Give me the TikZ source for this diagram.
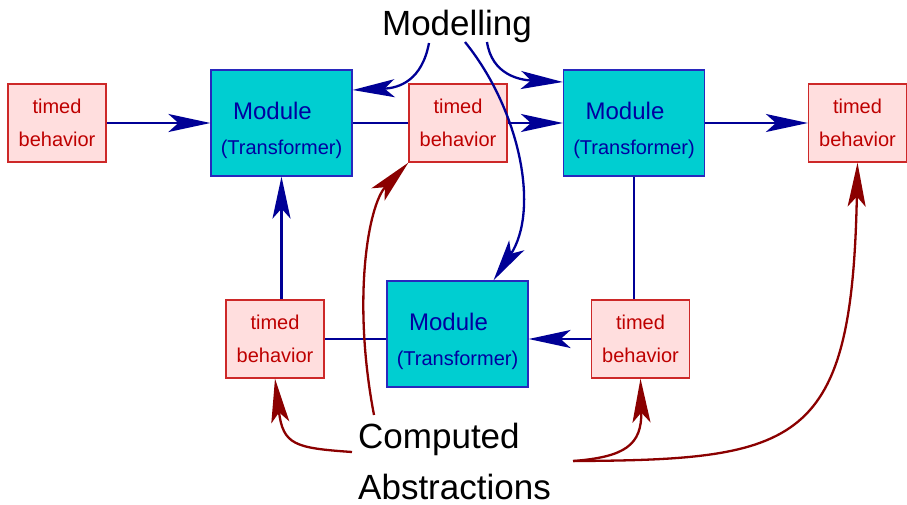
\documentclass[tikz,border=0pt]{standalone}
\usepackage{fontspec}
\setmainfont{Liberation Sans}
\usetikzlibrary{arrows.meta}
\usetikzlibrary{positioning}

\definecolor{modfill}{RGB}{0,206,209}
\definecolor{modline}{RGB}{40,40,190}
\definecolor{modtext}{RGB}{0,0,160}
\definecolor{flowblue}{RGB}{0,0,150}
\definecolor{tbfill}{RGB}{255,222,222}
\definecolor{tbline}{RGB}{205,40,40}
\definecolor{tbtext}{RGB}{190,0,0}
\definecolor{absred}{RGB}{139,0,0}

\newcommand{\moduletext}{{\fontsize{24}{35}\selectfont\rule{0pt}{33pt}Module\hspace*{18pt}}\\(Transformer)}

\begin{document}
\begin{tikzpicture}[x=1pt, y=-1pt,
  behavior/.style={draw=tbline, line width=1.2pt, fill=tbfill, text=tbtext, minimum width=98pt, minimum height=78pt, inner sep=0pt, align=center, font=\fontsize{20}{33}\selectfont},
  module/.style={draw=modline, line width=1.2pt, fill=modfill, text=modtext, minimum width=141pt, minimum height=106pt, inner sep=0pt, align=center, font=\fontsize{20}{35}\selectfont},
  flow/.style={line width=2.3pt, draw=flowblue, -{Stealth[length=42pt, width=18pt, inset=10pt]}},
  link/.style={line width=2.3pt, draw=flowblue},
  abstr/.style={line width=2.3pt, draw=absred, -{Stealth[length=44pt, width=18pt, inset=10pt]}},
  bigtext/.style={font=\fontsize{35}{51}\selectfont, inner sep=0pt}]
\useasboundingbox (0,0) rectangle (907,504);

\node[behavior] (InBehavior) at (57,123) {timed\\behavior};
\node[module] (ModuleA) at (281.5,123) {\moduletext};
\node[behavior] (MidBehavior) at (458,123) {timed\\behavior};
\node[module] (ModuleB) at (634,123) {\moduletext};
\node[behavior] (OutBehavior) at (857.5,123) {timed\\behavior};
\node[module] (ModuleC) at (457.5,334) {\moduletext};
\node[behavior] (LoopBehaviorL) at (275,339) {timed\\behavior};
\node[behavior] (LoopBehaviorR) at (640.5,339) {timed\\behavior};

\node[bigtext, anchor=base] (Modelling) at (457,35) {Modelling};
\node[bigtext, align=left, anchor=north west] (Computed) at (358,423) {Computed\\Abstractions};

% ends of the curved connectors
\coordinate (ModA) at (429,43);
\coordinate (ModB) at (487,42);
\coordinate (ModC) at (465,42);
\coordinate (CompUp) at (374,415);
\coordinate (CompLeft) at (352,452);
\coordinate (CompRight) at (573,461);

% data flow
\draw[flow] (InBehavior) -- (ModuleA);
\draw[link] (ModuleA) -- (MidBehavior);
\draw[flow] (MidBehavior) -- (ModuleB);
\draw[flow] (ModuleB) -- (OutBehavior);
\draw[link] (ModuleB.south) -- (ModuleB.south |- LoopBehaviorR.north);
\draw[flow] (LoopBehaviorR.west) -- (LoopBehaviorR.west -| ModuleC.east);
\draw[link] (ModuleC.west |- LoopBehaviorL.east) -- (LoopBehaviorL.east);
\draw[flow] (LoopBehaviorL.north -| ModuleA.south) -- (ModuleA.south);

% modelling
\draw[flow] (ModA) .. controls (422,80) and (400,88) .. ([yshift=33pt]ModuleA.east);
\draw[flow] (ModB) .. controls (492,75) and (520,80) .. ([yshift=41pt]ModuleB.west);
\draw[flow] (ModC) .. controls (520,110) and (540,210) .. ([xshift=36pt]ModuleC.north);

% computed abstractions
\draw[abstr] (CompUp) .. controls (352,300) and (368,205) .. (MidBehavior.south west);
\draw[abstr] (CompLeft) .. controls (295,448) and (283,445) .. (LoopBehaviorL.south);
\draw[abstr] (CompRight) .. controls (625,457) and (642,445) .. (LoopBehaviorR.south);
\draw[abstr] (CompRight) .. controls (800,460) and (852,445) .. (OutBehavior.south);
\end{tikzpicture}
\end{document}
